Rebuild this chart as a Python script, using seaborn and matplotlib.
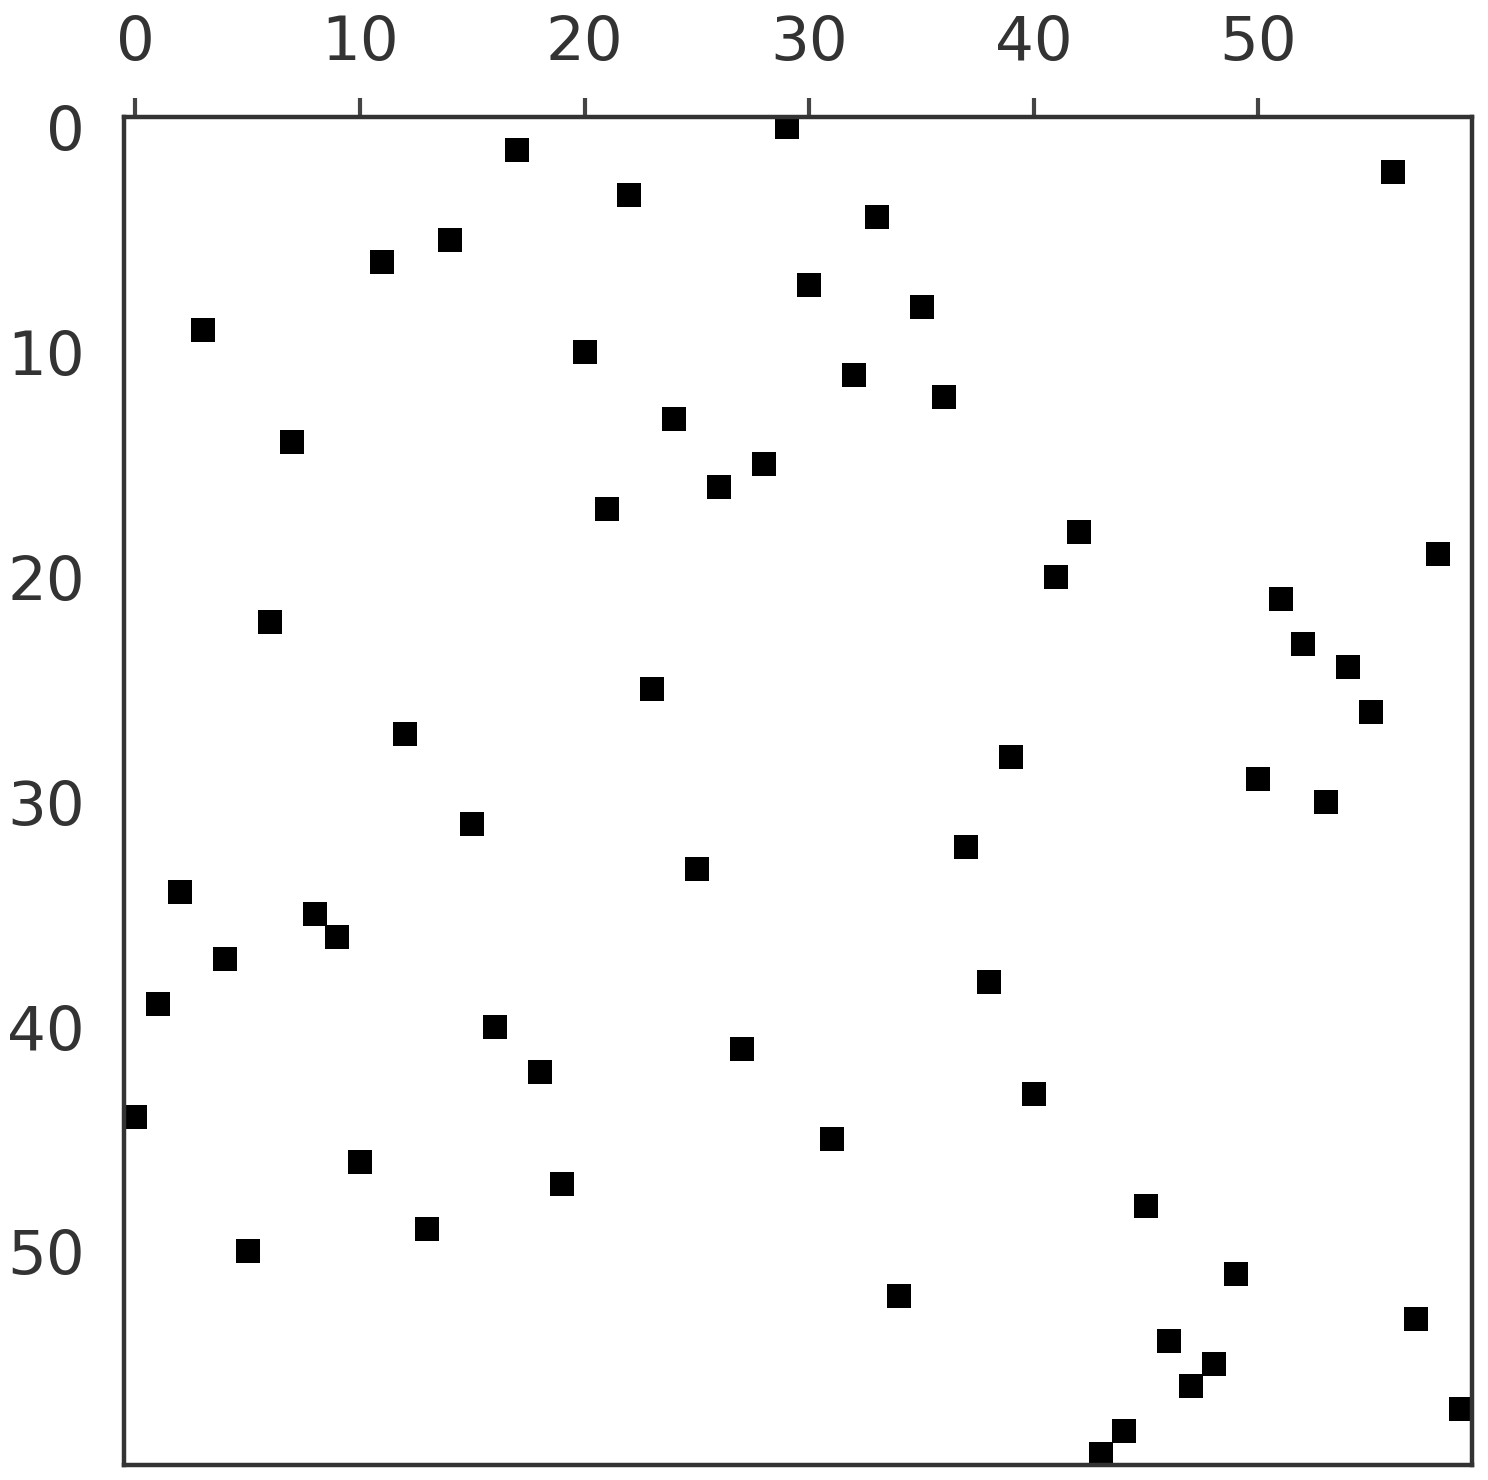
import numpy as np
import pandas as pd
import matplotlib
matplotlib.use("Agg")
import matplotlib.pyplot as plt
import seaborn as sns

# permutation matrix: column of the nonzero entry in each row
rows = list(range(60))
cols = [29, 17, 56, 22, 33, 14, 11, 30, 35, 3,
        20, 32, 36, 24, 7, 28, 26, 21, 42, 58,
        41, 51, 6, 52, 54, 23, 55, 12, 39, 50,
        53, 15, 37, 25, 2, 8, 9, 4, 38, 1,
        16, 27, 18, 40, 0, 31, 10, 19, 45, 13,
        5, 49, 34, 57, 46, 48, 47, 59, 44, 43]
ticks = [0, 10, 20, 30, 40, 50]

df = pd.DataFrame({"col": cols, "row": rows})

sns.set_style("white")
plt.rcParams["font.family"] = ["DejaVu Sans"]

fig = plt.figure(figsize=(14.88, 14.8), dpi=100)
ax = fig.add_axes([0.0833, 0.0101, 0.9059, 0.9108])

sns.scatterplot(data=df, x="col", y="row", marker="s", s=280,
                color="black", linewidth=0, ax=ax, legend=False)

ax.set_xlim(-0.5, 59.5)
ax.set_ylim(59.5, -0.45)
ax.set_xticks(ticks)
ax.set_yticks(ticks)
ax.xaxis.tick_top()
ax.set_xlabel("")
ax.set_ylabel("")
ax.tick_params(axis="both", which="major", direction="out", length=14,
               width=3, colors="#444444", labelsize=44, pad=14,
               labelcolor="#333333")
ax.tick_params(axis="x", pad=18)
for sp in ax.spines.values():
    sp.set_visible(True)
    sp.set_linewidth(3.2)
    sp.set_color("#333333")

fig.savefig("out.png", dpi=100)
